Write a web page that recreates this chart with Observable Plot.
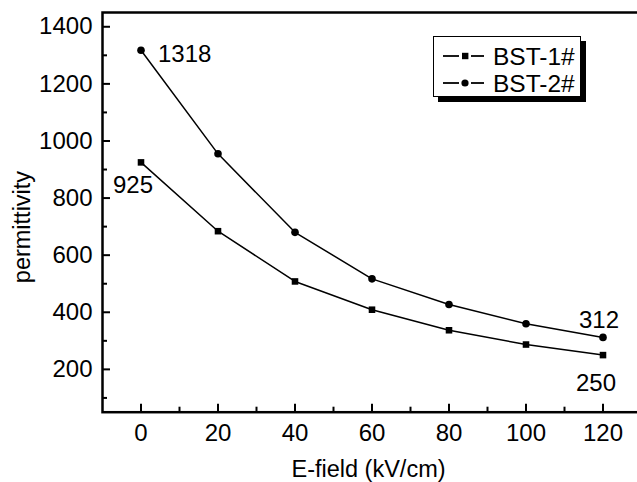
<!DOCTYPE html>
<html><head><meta charset="utf-8">
<script src="https://cdn.jsdelivr.net/npm/d3@7"></script>
<script src="https://cdn.jsdelivr.net/npm/@observablehq/plot@0.6"></script>
<style>
html,body{margin:0;padding:0;background:#fff;overflow:hidden}
#wrap{position:relative;width:637px;height:482px;font-family:"Liberation Sans",Arial,sans-serif}
#wrap > svg{overflow:hidden;display:block}
.legend{position:absolute;left:433px;top:36px;width:146px;height:59px;border:1px solid #000;background:#fff;box-shadow:5px 5px 0 #000}
.legend svg{display:block;overflow:visible}
</style></head><body><div id="wrap"></div>
<script>
const fields = [0, 20, 40, 60, 80, 100, 120];
const bst1 = [925, 684, 508, 409, 337, 287, 250];
const bst2 = [1318, 955, 680, 517, 427, 360, 312];
const seriesNames = ["BST-1#", "BST-2#"];
const yMajor = [200, 400, 600, 800, 1000, 1200, 1400];
const yMinor = [100, 300, 500, 700, 900, 1100, 1300];
const xMajor = [0, 20, 40, 60, 80, 100, 120];
const xMinor = [10, 30, 50, 70, 90, 110];
const xTitle = "E-field (kV/cm)";
const yTitle = "permittivity";

const rows1 = fields.map((f, i) => ({field: f, value: bst1[i], series: seriesNames[0]}));
const rows2 = fields.map((f, i) => ({field: f, value: bst2[i], series: seriesNames[1]}));
const rows = rows1.concat(rows2);

const W = 637, H = 482, ML = 102, MT = 12, MB = 70.3, MR = -4;
const plotW = W - ML - MR, plotH = H - MT - MB;
const FONT = '"Liberation Sans", Arial, sans-serif';

const ann = [
  {field: fields[0], value: bst2[0], label: String(bst2[0]), anchor: "start", dx: 17, dy: 4},
  {field: fields[0], value: bst1[0], label: String(bst1[0]), anchor: "middle", dx: -8, dy: 23},
  {field: fields[6], value: bst2[6], label: String(bst2[6]), anchor: "middle", dx: -4, dy: -17},
  {field: fields[6], value: bst1[6], label: String(bst1[6]), anchor: "middle", dx: -7, dy: 28}
];

const chart = Plot.plot({
  width: W, height: H,
  marginLeft: ML, marginTop: MT, marginBottom: MB, marginRight: MR,
  style: {fontFamily: FONT, color: "black", background: "white"},
  x: {domain: [-10, 130], range: [ML, W - MR]},
  y: {domain: [50, 1450], range: [H - MB, MT]},
  marks: [
    Plot.frame({stroke: "black", strokeWidth: 2.5}),
    Plot.tickY(yMajor, {y: d => d, insetRight: plotW - 8, stroke: "black", strokeWidth: 2}),
    Plot.tickY(yMinor, {y: d => d, insetRight: plotW - 5, stroke: "black", strokeWidth: 2}),
    Plot.tickX(xMajor, {x: d => d, insetTop: plotH - 8, stroke: "black", strokeWidth: 2}),
    Plot.tickX(xMinor, {x: d => d, insetTop: plotH - 5, stroke: "black", strokeWidth: 2}),
    Plot.axisY(yMajor, {tickSize: 0, tickPadding: 10, fontSize: 24, label: null, tickFormat: d => String(d)}),
    Plot.axisX(xMajor, {tickSize: 0, tickPadding: 12, fontSize: 24, label: null, tickFormat: d => String(d)}),
    Plot.line(rows, {x: "field", y: "value", z: "series", stroke: "black", strokeWidth: 1.5}),
    Plot.dot(rows1, {x: "field", y: "value", symbol: "square", fill: "black", r: 3.7}),
    Plot.dot(rows2, {x: "field", y: "value", symbol: "circle", fill: "black", r: 3.8}),
    ...ann.map(a => Plot.text([a], {x: "field", y: "value", text: "label", textAnchor: a.anchor, dx: a.dx, dy: a.dy, fontSize: 24, fill: "black"})),
    Plot.text([yTitle], {frameAnchor: "left", textAnchor: "middle", lineAnchor: "middle", rotate: -90, dx: -80, dy: 14.7, fontSize: 23.5, fill: "black"}),
    Plot.text([xTitle], {frameAnchor: "bottom", textAnchor: "middle", lineAnchor: "middle", dx: -3.5, dy: 57.5, fontSize: 23.5, fill: "black"})
  ]
});

const wrap = document.getElementById("wrap");
wrap.appendChild(chart);

const legend = document.createElement("div");
legend.className = "legend";
const ns = "http://www.w3.org/2000/svg";
const lsvg = document.createElementNS(ns, "svg");
lsvg.setAttribute("width", 146);
lsvg.setAttribute("height", 59);
const rowsY = [19, 46];
seriesNames.forEach((name, i) => {
  const y = rowsY[i];
  [[9, 25], [37, 50]].forEach(([a, b]) => {
    const l = document.createElementNS(ns, "line");
    l.setAttribute("x1", a); l.setAttribute("x2", b);
    l.setAttribute("y1", y); l.setAttribute("y2", y);
    l.setAttribute("stroke", "black"); l.setAttribute("stroke-width", 1.8);
    lsvg.appendChild(l);
  });
  let m;
  if (i === 0) {
    m = document.createElementNS(ns, "rect");
    m.setAttribute("x", 28); m.setAttribute("y", y - 3.2);
    m.setAttribute("width", 6.4); m.setAttribute("height", 6.4);
  } else {
    m = document.createElementNS(ns, "circle");
    m.setAttribute("cx", 31); m.setAttribute("cy", y); m.setAttribute("r", 3.6);
  }
  m.setAttribute("fill", "black");
  lsvg.appendChild(m);
  const t = document.createElementNS(ns, "text");
  t.setAttribute("x", 59); t.setAttribute("y", y);
  t.setAttribute("dy", "0.35em");
  t.setAttribute("font-size", 24.5);
  t.setAttribute("font-family", FONT);
  t.textContent = name;
  lsvg.appendChild(t);
});
legend.appendChild(lsvg);
wrap.appendChild(legend);
</script>
</body></html>
